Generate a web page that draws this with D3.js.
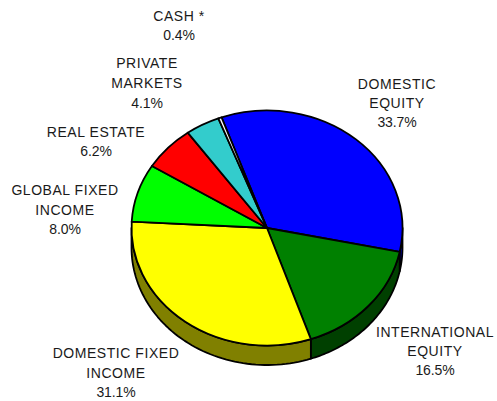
<!DOCTYPE html>
<html>
<head>
<meta charset="utf-8">
<script src="https://cdn.jsdelivr.net/npm/d3@7"></script>
<style>
html,body{margin:0;padding:0;background:#fff}
svg{display:block}
text{font-family:"Liberation Sans",Arial,sans-serif;fill:#1a1a1a;text-anchor:middle}
text.name{font-size:14px;letter-spacing:.55px}
text.val{font-size:14px;letter-spacing:-.1px}
</style>
</head>
<body>
<svg id="chart" width="497" height="401"></svg>
<script>
const categories = ["DOMESTIC EQUITY","INTERNATIONAL EQUITY","DOMESTIC FIXED INCOME","GLOBAL FIXED INCOME","REAL ESTATE","PRIVATE MARKETS","CASH *"];
const values = [33.7,16.5,31.1,8.0,6.2,4.1,0.4];
const valueLabels = ["33.7%","16.5%","31.1%","8.0%","6.2%","4.1%","0.4%"];
const colors = ["#0000ff","#008000","#ffff00","#00ff00","#ff0000","#33cccc","#ffffff"];
const sideColors = ["#0000c8","#004000","#808000","#008000","#800000","#1a6666","#808080"];
const labelLines = [["DOMESTIC","EQUITY"],["INTERNATIONAL","EQUITY"],["DOMESTIC FIXED","INCOME"],["GLOBAL FIXED","INCOME"],["REAL ESTATE"],["PRIVATE","MARKETS"],["CASH *"]];
const labelX = [397,435,116,65,96,147,179];
const labelY = [88.5,337,358,195,137,68,21];
const lineGaps = [19,19,19.5,19.5,19,20,19];

const cx=267, cy=228, rx=135.5, ry=117.5, depth=19.5;
const startDeg=-19.6;
const svg=d3.select("#chart");
const pie=d3.pie().sort(null).value(d=>d)
  .startAngle(startDeg*Math.PI/180).endAngle((startDeg+360)*Math.PI/180);
const slices=pie(values);
const px=a=>cx+rx*Math.sin(a), py=a=>cy-ry*Math.cos(a);

const visFrom=Math.PI/2, visTo=3*Math.PI/2;
const rimLine=d3.line();
slices.forEach((s,i)=>{
  const a0=Math.max(s.startAngle,visFrom), a1=Math.min(s.endAngle,visTo);
  if(a1<=a0) return;
  const ang=d3.range(0,61).map(k=>a0+(a1-a0)*k/60);
  const top=ang.map(a=>[px(a),py(a)]);
  const bot=ang.slice().reverse().map(a=>[px(a),py(a)+depth]);
  svg.append("path").attr("d",rimLine(top.concat(bot))+"Z")
    .attr("fill",sideColors[i]).attr("stroke","#000").attr("stroke-width",1.8).attr("stroke-linejoin","round");
});

const arc=d3.arc().innerRadius(0).outerRadius(rx);
const g=svg.append("g").attr("transform",`translate(${cx},${cy}) scale(1,${ry/rx})`);
g.selectAll("path").data(slices).join("path")
  .attr("d",arc)
  .attr("fill",(d,i)=>colors[i])
  .attr("stroke","#000").attr("stroke-width",1.8)
  .attr("stroke-linejoin","round")
  .attr("vector-effect","non-scaling-stroke");

categories.forEach((c,i)=>{
  labelLines[i].forEach((t,j)=>{
    svg.append("text").attr("class","name").attr("x",labelX[i]).attr("y",labelY[i]+j*lineGaps[i]).text(t);
  });
  svg.append("text").attr("class","val").attr("x",labelX[i])
    .attr("y",labelY[i]+labelLines[i].length*lineGaps[i]).text(valueLabels[i]);
});
</script>
</body>
</html>
